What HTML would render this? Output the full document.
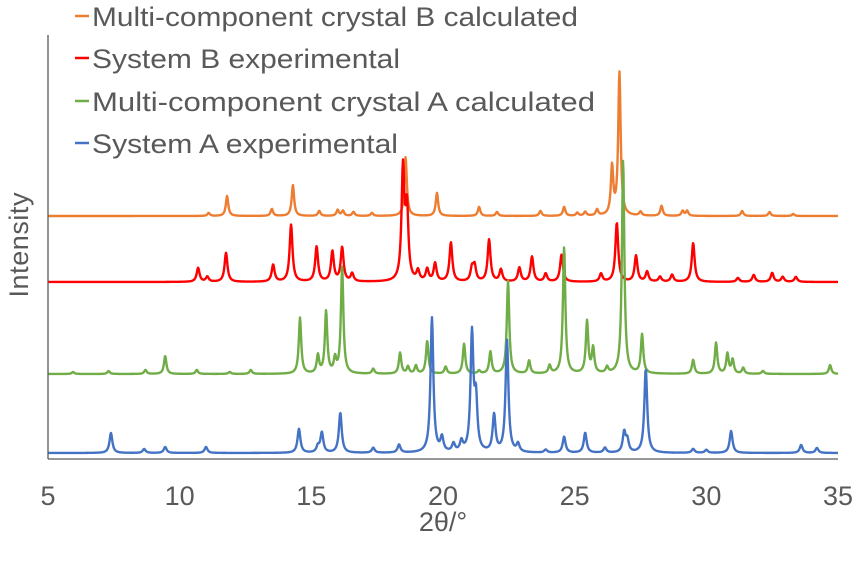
<!DOCTYPE html>
<html><head><meta charset="utf-8"><style>
html,body{margin:0;padding:0;background:#fff;}
svg{display:block;font-family:"Liberation Sans",sans-serif;}
</style></head><body>
<svg id="chart" width="857" height="564" viewBox="0 0 857 564">
<g id="series"></g>
<line x1="48" y1="35" x2="48" y2="459" stroke="#595959" stroke-width="1.3"/>
<line x1="48" y1="459" x2="838" y2="459" stroke="#595959" stroke-width="1.3"/>
<g id="ticks"></g>
<text x="443" y="531" font-size="27" fill="#595959" text-anchor="middle">2θ/°</text>
<text transform="translate(28,245) rotate(-90)" font-size="27" fill="#595959" text-anchor="middle" textLength="105">Intensity</text>
<g id="legend"></g>
</svg>
<script>
const xTicks = [5, 10, 15, 20, 25, 30, 35];
const seriesNames = ["Multi-component crystal B calculated", "System B experimental", "Multi-component crystal A calculated", "System A experimental"];
const seriesColors = ["#ED7D31", "#FF0000", "#70AD47", "#4472C4"];
const seriesOffsets = [243, 177, 85, 6];
// peak positions (2θ) and intensities per series
const orangePos = [11.1,11.8,13.5,14.3,15.3,16.0,16.2,16.6,17.3,18.58,19.77,21.37,22.05,23.7,24.6,25.1,25.4,25.85,26.42,26.7,27.5,28.3,29.1,29.27,31.36,32.4,33.3];
const orangeInt = [3,20,7,31,5,6,5,4,3,59,23,9,4,5,9,3,4,6,48,143,4,10,5,5,5,4,2];
const redPos = [10.7,11.05,11.76,13.55,14.23,15.2,15.8,16.17,16.55,18.48,18.63,19.05,19.4,19.7,20.3,21.1,21.2,21.75,22.2,22.9,23.38,23.9,24.5,26.0,26.6,27.33,27.75,28.24,28.7,29.5,31.2,31.8,32.5,32.9,33.4];
const redInt = [14,5,29,17,57,35,30,34,8,111,70,10,12,18,39,13,15,42,12,14,25,8,27,8,59,26,10,5,7,39,4,7,9,5,5];
const greenPos = [5.95,7.3,8.7,9.45,10.65,11.9,12.7,14.57,15.25,15.56,15.9,16.17,17.35,18.37,18.67,18.97,19.4,20.1,20.8,21.37,21.8,22.47,23.27,24.05,24.6,25.47,25.7,26.23,26.84,27.56,29.5,30.37,30.8,31.0,31.4,32.15,34.7];
const greenInt = [2,3,4,18,4,2,4,56,18,62,14,107,5,21,7,8,33,7,30,3,22,93,13,8,127,52,25,6,214,39,14,31,20,14,6,3,9];
const bluePos = [7.39,8.65,9.45,11.0,14.53,15.25,15.4,16.1,17.35,18.33,19.58,19.96,20.4,20.7,21.1,21.25,21.94,22.43,22.85,23.9,24.6,25.4,26.15,26.88,27.0,27.7,29.5,30.0,30.94,33.6,34.2];
const blueInt = [20,4,6,6,24,6,20,40,5,8,135,14,8,10,117,50,37,112,8,3,16,20,5,20,12,84,4,3,22,8,5];
const seriesPos = [orangePos, redPos, greenPos, bluePos];
const seriesInt = [orangeInt, redInt, greenInt, blueInt];
const seriesWidth = [0.055, 0.065, 0.055, 0.065];
const legendLen = [486, 308, 503, 306];

const X0 = 48, X1 = 838, YB = 459;
function xScale(v){ return X0 + (v - 5) / 30 * (X1 - X0); }
function yScale(v, off){ return YB - off - v; }

const NS = "http://www.w3.org/2000/svg";
const gS = document.getElementById("series");
for (let s = 0; s < 4; s++) {
  const pos = seriesPos[s], inten = seriesInt[s], w = seriesWidth[s];
  let d = "";
  for (let i = 0; i <= 1580; i++) {
    const t = 5 + i * 30 / 1580;
    let v = 0;
    for (let k = 0; k < pos.length; k++) {
      const dx = (t - pos[k]) / w;
      v += inten[k] / (1 + dx * dx);
    }
    d += (i ? "L" : "M") + xScale(t).toFixed(2) + "," + yScale(v, seriesOffsets[s]).toFixed(2);
  }
  const p = document.createElementNS(NS, "path");
  p.setAttribute("d", d);
  p.setAttribute("fill", "none");
  p.setAttribute("stroke", seriesColors[s]);
  p.setAttribute("stroke-width", "2.4");
  p.setAttribute("stroke-linejoin", "round");
  
  
  gS.appendChild(p);
}
const gT = document.getElementById("ticks");
for (const t of xTicks) {
  const tx = document.createElementNS(NS, "text");
  tx.setAttribute("x", xScale(t));
  tx.setAttribute("y", 505);
  tx.setAttribute("font-size", "27");
  tx.setAttribute("fill", "#595959");
  tx.setAttribute("text-anchor", "middle");
  tx.textContent = t;
  
  
  gT.appendChild(tx);
}
const gL = document.getElementById("legend");
const legY = [16, 58, 101, 143];
for (let s = 0; s < 4; s++) {
  const ln = document.createElementNS(NS, "line");
  ln.setAttribute("x1", 75); ln.setAttribute("x2", 89);
  ln.setAttribute("y1", legY[s]); ln.setAttribute("y2", legY[s]);
  ln.setAttribute("stroke", seriesColors[s]); ln.setAttribute("stroke-width", "2.5");
  
  
  gL.appendChild(ln);
  const tx = document.createElementNS(NS, "text");
  tx.setAttribute("x", 92);
  tx.setAttribute("y", legY[s] + 10);
  tx.setAttribute("font-size", "27");
  tx.setAttribute("fill", "#595959");
  tx.setAttribute("textLength", legendLen[s]);
  tx.setAttribute("lengthAdjust", "spacingAndGlyphs");
  tx.textContent = seriesNames[s];
  
  
  gL.appendChild(tx);
}
</script>
</body></html>
